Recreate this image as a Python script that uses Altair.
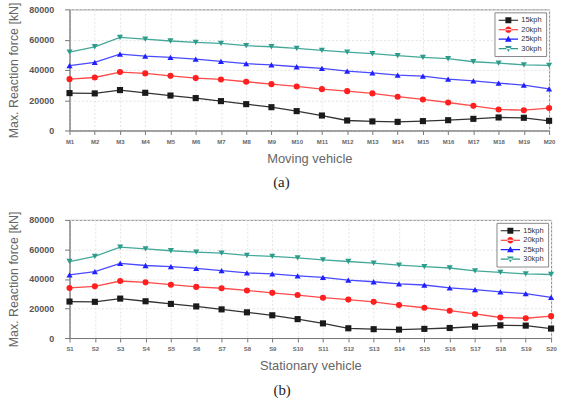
import altair as alt
import pandas as pd

# Vehicle positions along the bridge
moving_labels = [f"M{i}" for i in range(1, 21)]
stationary_labels = [f"S{i}" for i in range(1, 21)]

series_names = ["15kph", "20kph", "25kph", "30kph"]

# Maximum reaction force [kN] per vehicle position
force_15kph = [24700, 24500, 26700, 24900, 23100, 21400, 19400, 17400, 15400, 12800,
               9900, 6600, 6000, 5700, 6200, 6800, 7700, 8600, 8400, 6400]
force_20kph = [33900, 35000, 38600, 37700, 36100, 34600, 33700, 32200, 30600, 29100,
               27300, 26000, 24500, 22300, 20500, 18500, 16300, 13900, 13400, 14800]
force_25kph = [42800, 45000, 50500, 49100, 48300, 47200, 45600, 44100, 43400, 42100,
               41000, 39200, 38100, 36600, 35900, 33900, 32800, 31300, 30000, 27500]
force_30kph = [51800, 55300, 61500, 60400, 59100, 58200, 57500, 56000, 55300, 54200,
               52900, 51800, 50700, 49400, 48300, 47400, 45400, 44500, 43400, 43000]

series_values = [force_15kph, force_20kph, force_25kph, force_30kph]
y_ticks = [0, 20000, 40000, 60000, 80000]

colors = ["#1a1a1a", "#ff1f1f", "#1f1fff", "#2e9c8c"]
line_colors = ["#333333", "#ff4a4a", "#4a4aff", "#45a99a"]
marker_shapes = ["square", "circle", "triangle-up", "triangle-down"]

# legend glyphs: a horizontal stroke with the series marker in its middle,
# shifted right so the stroke stays inside the legend frame
_bar = "M-1,-0.15H4.2V0.15H-1Z "
legend_paths = [
    _bar + "M0.8,-0.8H2.4V0.8H0.8Z",
    _bar + "M0.75,0A0.85,0.85 0 1,0 2.45,0A0.85,0.85 0 1,0 0.75,0Z",
    _bar + "M1.6,-0.9L2.5,0.7H0.7Z",
    _bar + "M1.6,0.9L2.5,-0.7H0.7Z",
]

SANS = "Liberation Sans"
SERIF = "Liberation Serif"


def long_frame(labels):
    rows = []
    for name, vals in zip(series_names, series_values):
        for lab, v in zip(labels, vals):
            rows.append({"vehicle": lab, "series": name, "force": v})
    return pd.DataFrame(rows)


def panel(labels, x_title, caption, w, h):
    df = long_frame(labels)
    x = alt.X(
        "vehicle:N",
        sort=labels,
        scale=alt.Scale(type="point", padding=0, domain=labels),
        axis=alt.Axis(
            title=x_title, labelAngle=0, labelFont=SANS, labelFontSize=6,
            labelFontWeight="bold", labelColor="#666", labelPadding=4,
            tickSize=4, tickColor="#777", domainColor="#777",
            grid=True, gridColor="#e4e4e4", gridDash=[2, 2],
            titleFont=SANS, titleFontSize=13, titleFontWeight="normal",
            titleColor="#666", titlePadding=8,
        ),
    )
    y = alt.Y(
        "force:Q",
        scale=alt.Scale(domain=[0, 80000], nice=False),
        axis=alt.Axis(
            title="Max. Reaction force [kN]", values=y_ticks, format="d",
            labelFont=SANS, labelFontSize=9, labelFontWeight="bold",
            labelColor="#555", labelPadding=11, tickSize=5, tickColor="#777",
            domainColor="#777", grid=True, gridColor="#e4e4e4", gridDash=[2, 2],
            titleFont=SANS, titleFontSize=12.5, titleFontWeight="normal",
            titleColor="#666", titlePadding=8,
        ),
    )

    base = alt.Chart(df)
    # series colours come from the data-driven (sorted) domain
    lines = base.mark_line(strokeWidth=1.3).encode(
        x=x, y=y,
        stroke=alt.Stroke("series:N", scale=alt.Scale(range=line_colors), legend=None),
    )
    layers = [lines]
    for name, shp in zip(series_names, marker_shapes):
        pts = base.transform_filter(alt.datum.series == name).mark_point(
            filled=True, opacity=1, shape=shp, size=38
        ).encode(
            x=x, y=y,
            color=alt.Color("series:N", scale=alt.Scale(range=colors), legend=None),
        )
        layers.append(pts)

    # legend carrier: draws no marks, only the key
    key = base.transform_filter("false").mark_point(filled=True, opacity=1).encode(
        x=x, y=y,
        fill=alt.Fill("series:N", scale=alt.Scale(domain=series_names, range=colors),
                      legend=alt.Legend(
                          title=None, orient="top-right", offset=3, padding=4,
                          strokeColor="#888", fillColor="white",
                          labelFont=SANS, labelFontSize=7.5, labelColor="#333",
                          symbolSize=56, labelOffset=15, rowPadding=1.5,
                          symbolStrokeWidth=0,
                      )),
        shape=alt.Shape("series:N", scale=alt.Scale(domain=series_names, range=legend_paths),
                        legend=alt.Legend(title=None)),
    )
    layers.append(key)

    return alt.layer(*layers).properties(
        width=w, height=h,
        title=alt.TitleParams(
            caption, orient="bottom", anchor="middle", frame="bounds",
            font=SERIF, fontSize=15, fontWeight="normal", color="#222", offset=10,
        ),
    )


top = panel(moving_labels, "Moving vehicle", "(a)", 483, 122)
bottom = panel(stationary_labels, "Stationary vehicle", "(b)", 485, 119)

chart = alt.vconcat(top, bottom, spacing=19).resolve_scale(
    fill="independent", shape="independent", color="independent", stroke="independent"
).resolve_legend(
    fill="independent", shape="independent"
).properties(
    padding={"left": 7, "top": 0, "right": 6, "bottom": 2},
    background="white",
).configure_view(stroke="#888", strokeWidth=1)

chart.save("out.html", embed_options={"renderer": "svg", "actions": False})
